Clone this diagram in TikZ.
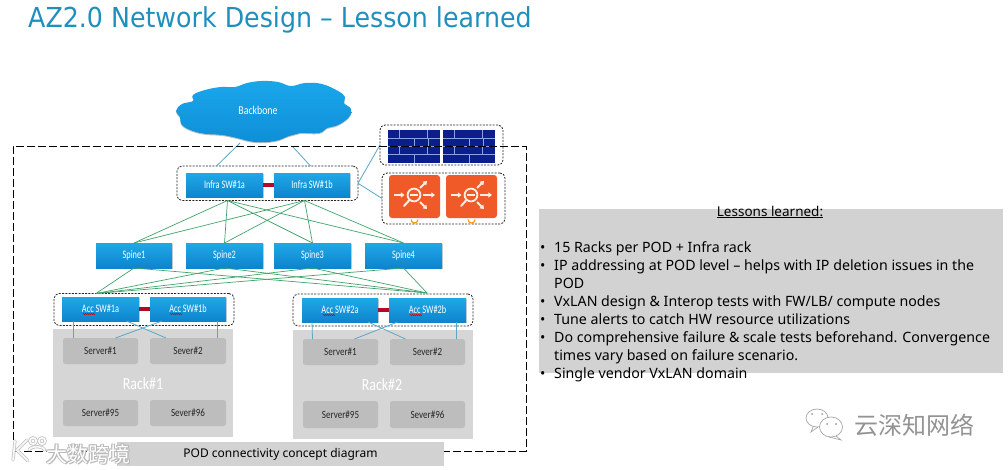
\documentclass[tikz,border=0pt]{standalone}
\usepackage{fontspec}
\setmainfont{Open Sans}
\newfontfamily\labelfont[FakeStretch=0.82]{Carlito}
\newfontfamily\switchfont[FakeStretch=0.72]{Carlito}
\newfontfamily\titlefont[FakeStretch=0.92]{DejaVu Sans}
\newfontfamily\bodyfont{Noto Sans}
\newfontfamily\cjkfont{Noto Sans CJK SC}
\usetikzlibrary{shapes.symbols,shadows,calc,decorations.pathmorphing,arrows.meta}
\definecolor{swtop}{HTML}{1FA8E8}
\definecolor{swbot}{HTML}{0E84CC}
\definecolor{cloudtop}{HTML}{1BA6EA}
\definecolor{cloudbot}{HTML}{0E8FD8}
\definecolor{linkgreen}{HTML}{3FA56A}
\definecolor{linkblue}{HTML}{5AA8C6}
\definecolor{barred}{HTML}{B00A24}
\definecolor{rackgray}{HTML}{D6D6D6}
\definecolor{servergray}{HTML}{BDBDBD}
\definecolor{panelgray}{HTML}{D2D2D2}
\definecolor{navy}{HTML}{0A1E8C}
\definecolor{brickline}{HTML}{8FA0E0}
\definecolor{lborange}{HTML}{F05A28}
\definecolor{lbicon}{HTML}{FDEDE2}
\definecolor{titleblue}{HTML}{1F90BE}
\tikzset{
  boxed/.style={rectangle,inner sep=0pt,outer sep=0pt,font=\labelfont\fontsize{11}{11}\selectfont},
  switchbox/.style={boxed,top color=swtop,bottom color=swbot,text=white,
    font=\switchfont\fontsize{11.5}{11.5}\selectfont,
    drop shadow={shadow xshift=0.6pt,shadow yshift=-1pt,opacity=.35}},
  serverbox/.style={boxed,fill=servergray,rounded corners=2.5pt,text=black!85},
  rackbox/.style={boxed,fill=rackgray},
  groupbox/.style={rectangle,inner sep=0pt,outer sep=0pt,draw=black!85,line width=.8pt,dash pattern=on 2pt off 1.3pt,rounded corners=5pt},
  podbox/.style={rectangle,inner sep=0pt,outer sep=0pt,draw=black,line width=.9pt,dash pattern=on 8pt off 3pt},
  fabric/.style={linkgreen,line width=.7pt},
  access/.style={linkblue,line width=.8pt},
  peerbar/.style={barred,line width=3.2pt},
  lbarrow/.style={lbicon,line width=1.9pt,-{Triangle[length=3.6pt,width=5pt]}},
  bullet/.style={anchor=base west,inner sep=0pt,font=\bodyfont\fontsize{14.2}{14.2}\selectfont,text=black},
  wmark/.style={inner sep=0pt,font=\cjkfont\fontsize{21}{21}\selectfont},
}
\newcommand{\rbox}[7]{\node[#1,minimum width={(#5-#3)*1pt},minimum height={(#6-#4)*1pt}] (#2) at ({(#3+#5)/2},{(#4+#6)/2}) {#7};}
\newcommand{\squig}[2]{\draw[red!80!black,line width=.4pt,decorate,decoration={zigzag,amplitude=.5pt,segment length=2pt}] (#1,#2) -- ++(12,0);}
\newcommand{\firewall}[4]{%
  \fill[navy] (#1,#2) rectangle (#3,#4);
  \foreach \r in {1,2,3} {\draw[brickline,line width=.8pt] (#1,{#2+(#4-#2)*\r/4}) -- (#3,{#2+(#4-#2)*\r/4});}
  \foreach \f/\r in {.22/0,.75/0,.5/1,.78/1,.22/2,.75/2,.5/3} {
    \draw[brickline,line width=.8pt] ({#1+(#3-#1)*\f},{#2+(#4-#2)*\r/4}) -- ({#1+(#3-#1)*\f},{#2+(#4-#2)*(\r+1)/4});}
}
\newcommand{\balancer}[2]{%
  \begin{scope}[shift={(#1,#2)}]
    \fill[lborange,rounded corners=3pt] (0,0) rectangle (51,43);
    \draw[lbicon,line width=1.8pt] (25,20) circle (6.4);
    \draw[lbicon,line width=2pt,line cap=round] (20.5,25) -- (15,31);
    \fill[lbicon] (21,18.9) rectangle (29,21.1);
    \draw[lbarrow] (5,20) -- (15.5,20);
    \draw[lbarrow] (34,20) -- (46,20);
    \draw[lbarrow] (31,13) -- (38,6);
    \draw[lbarrow] (31,27) -- (38,34);
    \draw[orange!80!yellow,line width=1.1pt] (22,44.5) arc (180:360:3.5 and -3.5);
  \end{scope}}
\begin{document}
\begin{tikzpicture}[x=1pt,y=-1pt]
\useasboundingbox (0,0) rectangle (1008,469);
\fill[white] (0,0) rectangle (1008,469);

\node[anchor=west,inner sep=0pt,text=titleblue,font=\titlefont\fontsize{27.5}{27.5}\selectfont] (title) at (28,19.5) {AZ2.0 Network Design – Lesson learned};

% cloud
\begin{scope}
\fill[black,opacity=.25] plot[smooth cycle,tension=.7] coordinates {(176,112) (182,105) (193,102) (193,96) (205,91) (221,88) (235,88) (247,84) (262,82) (278,83) (291,87) (305,84) (322,85) (338,92) (345,98) (344,104) (351,110) (349,118) (338,126) (327,129) (319,134) (300,134) (289,137) (275,142) (255,143) (237,139) (222,136) (200,134) (183,127) (180,118)};
\shade[top color=cloudtop,bottom color=cloudbot] plot[smooth cycle,tension=.7] coordinates {(176,111) (182,104) (193,101) (193,95) (205,90) (221,87) (235,87) (247,83) (262,81) (278,82) (291,86) (305,83) (322,84) (338,91) (345,97) (344,103) (351,109) (349,117) (338,125) (327,128) (319,133) (300,133) (289,136) (275,141) (255,142) (237,138) (222,135) (200,133) (183,126) (180,117)};
\end{scope}
\node[rectangle,inner sep=0pt,outer sep=0pt,minimum width=172pt,minimum height=60pt,text=white,
  font=\labelfont\fontsize{12}{12}\selectfont] (backbone) at (258,110) {Backbone};

% racks
\rbox{rackbox}{rackA}{53}{329}{233}{437}{}
\rbox{rackbox}{rackB}{293}{330}{473}{439}{}
\node[text=white,font=\labelfont\fontsize{17}{17}\selectfont] (rackAlabel) at (143,384) {Rack\#1};
\node[text=white,font=\labelfont\fontsize{17}{17}\selectfont] (rackBlabel) at (382,385) {Rack\#2};
\rbox{serverbox}{sAa}{63}{338}{138}{364}{Server\#1}
\rbox{serverbox}{sAb}{150}{338}{226}{364}{Sever\#2}
\rbox{serverbox}{sAc}{63}{400}{138}{426}{Server\#95}
\rbox{serverbox}{sAd}{150}{400}{226}{426}{Sever\#96}
\rbox{serverbox}{sBa}{303}{339}{378}{365}{Server\#1}
\rbox{serverbox}{sBb}{390}{339}{465}{365}{Sever\#2}
\rbox{serverbox}{sBc}{303}{401}{378}{428}{Server\#95}
\rbox{serverbox}{sBd}{390}{401}{465}{428}{Sever\#96}

% switches
\rbox{switchbox}{infA}{186}{173}{263}{197}{Infra SW\#1a}
\rbox{switchbox}{infB}{274}{173}{350}{197}{Infra SW\#1b}
\rbox{switchbox}{spA}{96}{243}{172}{268}{Spine1}
\rbox{switchbox}{spB}{186}{243}{263}{268}{Spine2}
\rbox{switchbox}{spC}{274}{243}{351}{268}{Spine3}
\rbox{switchbox}{spD}{365}{243}{442}{268}{Spine4}
\rbox{switchbox}{acAa}{62}{297}{139}{321}{Acc SW\#1a}
\rbox{switchbox}{acAb}{150}{297}{226}{321}{Acc SW\#1b}
\rbox{switchbox}{acBa}{302}{298}{378}{322}{Acc SW\#2a}
\rbox{switchbox}{acBb}{389}{298}{466}{322}{Acc SW\#2b}
\squig{83}{314}\squig{170}{314}\squig{323}{315}\squig{410}{315}

% groups
\rbox{groupbox}{grpInf}{177}{166}{358}{200.5}{}
\rbox{groupbox}{grpAcA}{54}{293.5}{234}{325.5}{}
\rbox{groupbox}{grpAcB}{293}{294}{473}{326}{}

% firewalls and balancers
\firewall{388}{130}{440}{163}
\firewall{443}{130}{495}{163}
\balancer{389}{175}
\balancer{446}{175}
\rbox{groupbox}{grpFw}{380}{125}{503}{165}{}
\rbox{groupbox}{grpLb}{382}{173}{505}{224}{}

% connectors
\draw[access] ([xshift=-18pt,yshift=-3pt]backbone.south) -- ([xshift=-51pt]grpInf.north);
\draw[access] ([xshift=35pt,yshift=-7pt]backbone.south) -- ([xshift=43pt]grpInf.north);
\draw[access] (grpInf.east) -- (grpFw.west);
\draw[access] (grpInf.east) -- (grpLb.west);

\foreach \s in {spA,spB,spC,spD} {
  \draw[fabric] ([xshift=-40pt]grpInf.south) -- ([xshift=0pt]\s.north);
  \draw[fabric] ([xshift=37pt]grpInf.south) -- ([xshift=0pt]\s.north);
  \draw[fabric] (\s.south) -- ([xshift=-48pt]grpAcA.north);
  \draw[fabric] (\s.south) -- ([xshift=44pt,yshift=1pt]grpAcB.north);
}

\draw[peerbar] (infA.east) -- (infB.west);
\draw[peerbar] (acAa.east) -- (acAb.west);
\draw[peerbar] (acBa.east) -- (acBb.west);

\draw[access] ([xshift=-27pt]acAa.south) -- ([xshift=-27pt]sAa.north);
\draw[access] ([xshift=26pt]acAa.south) -- ([xshift=-22pt]sAb.north);
\draw[access] ([xshift=-26pt]acAb.south) -- ([xshift=15pt]sAa.north);
\draw[access] ([xshift=29pt]acAb.south) -- ([xshift=29pt]sAb.north);
\draw[access] ([xshift=-28pt]acBa.south) -- ([xshift=-28pt]sBa.north);
\draw[access] ([xshift=28pt]acBa.south) -- ([xshift=-22pt]sBb.north);
\draw[access] ([xshift=-30pt]acBb.south) -- ([xshift=14pt]sBa.north);
\draw[access] ([xshift=29pt]acBb.south) -- ([xshift=29pt]sBb.north);

% POD frame
\rbox{podbox}{pod}{13}{146}{526}{451}{}

% caption
\rbox{boxed,fill=panelgray,text=black,font=\bodyfont\fontsize{12}{12}\selectfont}{caption}{117}{442}{444}{466}{POD connectivity concept diagram}

% lessons panel
\rbox{boxed,fill=panelgray}{panel}{539}{209}{1003}{373}{}
\node[inner sep=0pt,font=\bodyfont\fontsize{13.5}{13.5}\selectfont] (lessons) at (770,212) {\underline{Lessons learned:}};
\node[bullet] (b1m) at (540,252) {•};
\node[bullet] (b1) at (554,252) {15 Racks per POD + Infra rack};
\node[bullet] (b2m) at (540,270) {•};
\node[bullet] (b2) at (554,270) {IP addressing at POD level – helps with IP deletion issues in the};
\node[bullet] (b2x) at (554,288) {POD};
\node[bullet] (b3m) at (540,306) {•};
\node[bullet] (b3) at (554,306) {VxLAN design \& Interop tests with FW/LB/ compute nodes};
\node[bullet] (b4m) at (540,324) {•};
\node[bullet] (b4) at (554,324) {Tune alerts to catch HW resource utilizations};
\node[bullet] (b5m) at (540,342) {•};
\node[bullet] (b5) at (554,342) {Do comprehensive failure \& scale tests beforehand. Convergence};
\node[bullet] (b5x) at (554,360) {times vary based on failure scenario.};
\node[bullet] (b6m) at (540,378) {•};
\node[bullet] (b6) at (554,378) {Single vendor VxLAN domain};

% watermarks
\begin{scope}[gray!70,line width=.7pt]
  \draw (817,418) ellipse (11 and 9);
  \draw (813,427) -- (811,432) -- (818,427);
  \fill[white] (831,427) ellipse (11.5 and 10);
  \draw (831,427) ellipse (11.5 and 10);
  \draw (836,436) -- (841,440) -- (829,437);
  \foreach \p in {(812,414),(822,414),(827,424),(836,424)} {\fill[gray!80] \p circle (1);}
\end{scope}
\node[inner sep=0pt,text=gray!85,font=\cjkfont\fontsize{24}{24}\selectfont] (wmRight) at (914,425) {云深知网络};
% left logo
\begin{scope}[line cap=round]
  \foreach \c/\w in {gray!45/3.2,white!95!gray/1.6} {
    \draw[\c,line width=\w pt] (15,441) -- (13,460) (27,440) -- (17,450) -- (28,461);
    \draw[\c,line width=\w pt] (33,441) circle (3.2) (42,441) circle (3.2);
    \draw[\c,line width=\w pt] (29,450) arc (190:350:8 and 4);
  }
\end{scope}
\foreach \dx/\dy in {-.7/-.7,.7/-.7,-.7/.7,.7/.7,1.2/1.2} {
  \node[wmark,text=gray!55] at ({88.5+\dx},{454+\dy}) {大数跨境};
}
\node[wmark,text=white] (wmLeft) at (88.5,454) {大数跨境};
\end{tikzpicture}
\end{document}
